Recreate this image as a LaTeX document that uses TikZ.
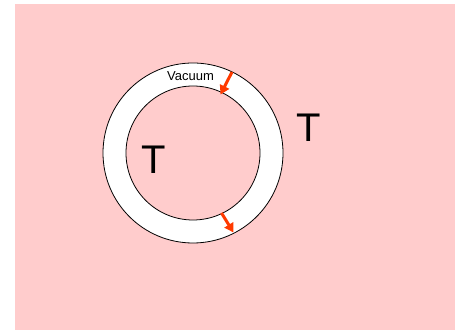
\documentclass[tikz,border=0pt]{standalone}
\usepackage{fontspec}
\setmainfont{Liberation Sans}
\usetikzlibrary{arrows.meta}
\definecolor{bgpink}{HTML}{FFCCCC}
\definecolor{flux}{HTML}{FF3A00}
\begin{document}
\begin{tikzpicture}[x=1pt,y=1pt,
  ring/.style={draw=black,line width=0.8pt},
  bigT/.style={font=\fontsize{40}{44}\selectfont,inner sep=0pt},
  label/.style={font=\fontsize{13}{15}\selectfont,inner sep=0pt,anchor=base},
  heatflow/.style={draw=flux,line width=3pt,-{Triangle[length=9pt,width=10pt]}}]
  \useasboundingbox (0,0) rectangle (461,331);
  % surroundings
  \fill[bgpink] (15,1) rectangle (455,327);
  % vacuum shell between two walls
  \coordinate (c) at (193,178);
  \filldraw[ring,fill=white] (c) circle[radius=90];
  \filldraw[ring,fill=bgpink] (c) circle[radius=67];
  % temperatures
  \node[bigT] (tin) at (154,171) {T};
  \node[bigT] (tout) at (309,203) {T};
  \node[label] (vac) at (190.5,250) {Vacuum};
  % radiation across the gap
  \coordinate (a1) at (232,259);
  \coordinate (a2) at (220.5,236.5);
  \coordinate (b1) at (221.5,118);
  \coordinate (b2) at (233.5,98.5);
  \draw[heatflow] (a1) -- (a2);
  \draw[heatflow] (b1) -- (b2);
\end{tikzpicture}
\end{document}
